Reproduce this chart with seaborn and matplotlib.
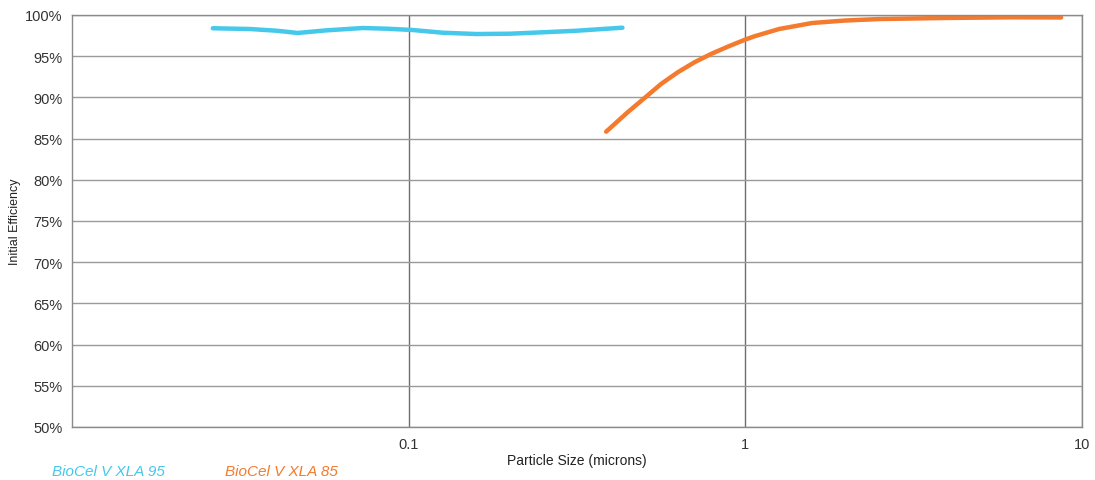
import numpy as np
import pandas as pd
import matplotlib
matplotlib.use('Agg')
import matplotlib.pyplot as plt
import seaborn as sns
from matplotlib.ticker import FixedLocator, FuncFormatter, NullLocator

# Particle size (microns) and initial efficiency (%)
xla95_size = [0.0262, 0.0338, 0.0406, 0.0468, 0.0571, 0.0730, 0.0860, 0.1027,
              0.1262, 0.1592, 0.1994, 0.2498, 0.3150, 0.4315]
xla95_eff = [98.39, 98.30, 98.09, 97.82, 98.14, 98.42, 98.34, 98.18,
             97.85, 97.69, 97.73, 97.90, 98.09, 98.46]

xla85_size = [0.386, 0.447, 0.502, 0.562, 0.630, 0.706, 0.791, 0.886, 0.993,
              1.063, 1.26, 1.58, 1.98, 2.50, 3.95, 6.2, 8.67]
xla85_eff = [85.84, 88.19, 89.93, 91.63, 93.05, 94.26, 95.27, 96.15, 96.97,
             97.41, 98.3, 99.03, 99.33, 99.51, 99.64, 99.72, 99.70]

series_names = ['BioCel V XLA 95', 'BioCel V XLA 85']
series_colors = ['#45c8ea', '#f47a2e']

df = pd.concat([
    pd.DataFrame({'size': xla95_size, 'eff': xla95_eff, 'filter': series_names[0]}),
    pd.DataFrame({'size': xla85_size, 'eff': xla85_eff, 'filter': series_names[1]}),
])

sns.set_style('white')
plt.rcParams['font.family'] = ['Liberation Sans', 'DejaVu Sans']

fig = plt.figure(figsize=(10.95, 4.81), dpi=100)
ax = fig.add_axes([72 / 1095, 1 - 428 / 481, (1082 - 72) / 1095, (428 - 16) / 481])

sns.lineplot(data=df, x='size', y='eff', hue='filter', palette=series_colors,
             linewidth=3.2, legend=False, ax=ax, sort=True)
for line in ax.lines:
    line.set_solid_joinstyle('round')

ax.set_xscale('log')
ax.set_xlim(0.01, 10)
ax.set_ylim(50, 100)

ax.xaxis.set_major_locator(FixedLocator([0.1, 1, 10]))
ax.xaxis.set_minor_locator(NullLocator())
ax.xaxis.set_major_formatter(FuncFormatter(lambda v, p: f'{v:g}'))
ax.set_yticks(np.arange(50, 101, 5))
ax.yaxis.set_major_formatter(FuncFormatter(lambda v, p: f'{v:.0f}%'))

ax.grid(True, axis='y', color='#9a9a9a', linewidth=1)
ax.grid(True, axis='x', color='#6e6e6e', linewidth=1)
ax.set_axisbelow(True)
for s in ax.spines.values():
    s.set_color('#8a8a8a')
    s.set_linewidth(1)

ax.tick_params(axis='both', length=0, labelsize=10.5, labelcolor='#333333', pad=7)
ax.set_xlabel('Particle Size (microns)', fontsize=10, color='#222222', labelpad=2)
ax.set_ylabel('Initial Efficiency', fontsize=9, color='#222222', labelpad=3)

fig.text(52 / 1095, 1 - 472 / 481, series_names[0], color=series_colors[0],
         fontsize=11, style='italic', va='center', ha='left')
fig.text(225 / 1095, 1 - 472 / 481, series_names[1], color=series_colors[1],
         fontsize=11, style='italic', va='center', ha='left')

fig.savefig('out.png', dpi=100)
